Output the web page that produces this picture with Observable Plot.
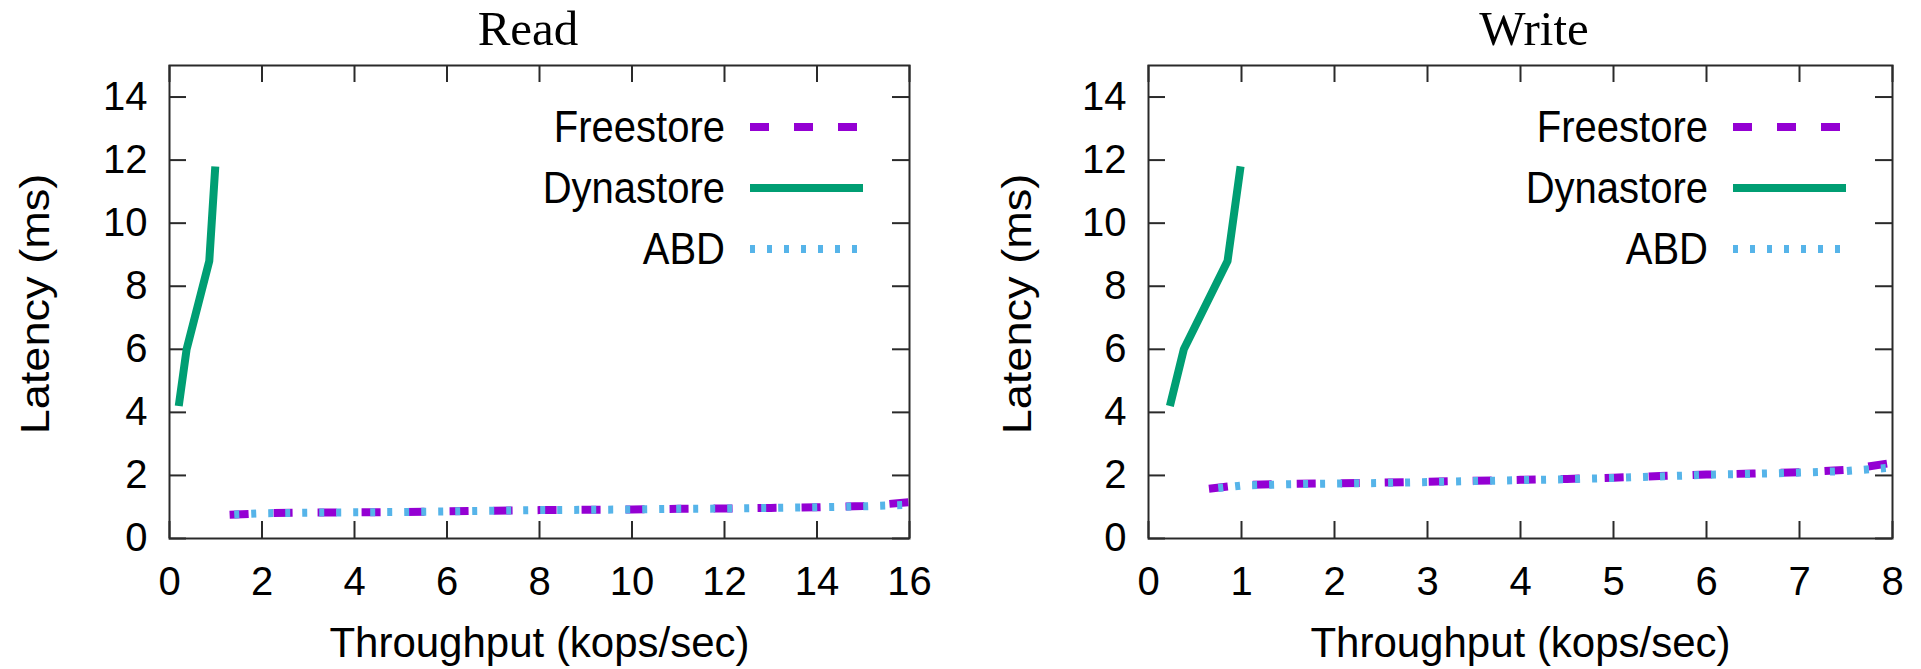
<!DOCTYPE html>
<html><head><meta charset="utf-8">
<script src="https://cdn.jsdelivr.net/npm/d3@7"></script>
<script src="https://cdn.jsdelivr.net/npm/@observablehq/plot@0.6"></script>
<style>
body{margin:0;background:#fff;width:1921px;height:669px;overflow:hidden;font-family:"Liberation Sans",Arial,sans-serif;position:relative}
.panel{position:absolute;top:0;height:669px}
.title{position:absolute;top:4px;font-family:"Liberation Serif","Times New Roman",serif;font-size:49px;line-height:49px;transform:translateX(-50%);white-space:nowrap;color:#000}
.plot{position:absolute;top:63px;left:0}
.lgtext{position:absolute;height:50px;line-height:50px;font-size:40px;white-space:nowrap;transform:translateX(-100%) scaleY(1.1);transform-origin:100% 50%;color:#000}
.lgsw{position:absolute;overflow:visible}
.ylab{position:absolute;font-size:41px;line-height:41px;white-space:nowrap;transform:translate(-50%,-50%) scale(1,1.1) rotate(-90deg);color:#000}
</style></head><body>
<script>
// ---- data ----
const seriesNames = ["Freestore", "Dynastore", "ABD"];
const seriesColors = ["#9400D3", "#009E73", "#56B4E9"];
const yTicks = [0, 2, 4, 6, 8, 10, 12, 14];
const xLabel = "Throughput (kops/sec)";
const yLabel = "Latency (ms)";

const readXTicks = [0, 2, 4, 6, 8, 10, 12, 14, 16];
const readFreestoreX = [1.3, 2, 3, 4, 5, 6, 7, 8, 9, 10, 11, 12, 13, 14, 15, 16];
const readFreestoreY = [0.75, 0.8, 0.82, 0.83, 0.84, 0.86, 0.88, 0.9, 0.91, 0.92, 0.94, 0.95, 0.97, 0.99, 1.03, 1.15];
const readDynastoreX = [0.2, 0.37, 0.86, 0.99];
const readDynastoreY = [4.2, 6.0, 8.8, 11.8];
const readABDX = [1.4, 2, 3, 4, 5, 6, 7, 8, 9, 10, 11, 12, 13, 14, 15, 16];
const readABDY = [0.76, 0.8, 0.82, 0.83, 0.84, 0.86, 0.88, 0.9, 0.91, 0.92, 0.94, 0.95, 0.97, 0.99, 1.02, 1.07];

const writeXTicks = [0, 1, 2, 3, 4, 5, 6, 7, 8];
const writeFreestoreX = [0.65, 1, 1.5, 2, 2.5, 3, 3.5, 4, 4.5, 5, 5.5, 6, 6.5, 7, 7.5, 8];
const writeFreestoreY = [1.58, 1.7, 1.73, 1.75, 1.77, 1.8, 1.83, 1.86, 1.89, 1.93, 1.98, 2.03, 2.06, 2.1, 2.18, 2.4];
const writeDynastoreX = [0.23, 0.38, 0.85, 0.99];
const writeDynastoreY = [4.2, 6.0, 8.8, 11.8];
const writeABDX = [0.75, 1, 1.5, 2, 2.5, 3, 3.5, 4, 4.5, 5, 5.5, 6, 6.5, 7, 7.5, 8];
const writeABDY = [1.6, 1.68, 1.72, 1.74, 1.76, 1.79, 1.82, 1.85, 1.88, 1.92, 1.97, 2.02, 2.05, 2.09, 2.14, 2.25];

const toRows = (xs, ys) => xs.map((x, i) => ({x, y: ys[i]}));

const dashes = ["19,25", null, "5,12"];

function makePanel(o) {
  const H = 606, mT = 2, mB = 131;
  const innerH = H - mT - mB;
  const innerW = o.width - o.mL - o.mR;
  const div = document.createElement("div");
  div.className = "panel";
  div.style.left = o.left + "px";
  div.style.width = o.width + "px";
  document.body.appendChild(div);

  const t = document.createElement("div");
  t.className = "title";
  t.textContent = o.title;
  t.style.left = o.titleCX + "px";
  div.appendChild(t);

  const frameColor = "#2a2a2a";
  const data = o.series.map(([xs, ys]) => toRows(xs, ys));
  const marks = [
    Plot.frame({stroke: frameColor, strokeWidth: 2}),
    Plot.tickX(o.xTicks, {x: d => d, insetTop: innerH - 17, stroke: frameColor, strokeWidth: 2}),
    Plot.tickX(o.xTicks, {x: d => d, insetBottom: innerH - 17, stroke: frameColor, strokeWidth: 2}),
    Plot.tickY(yTicks, {y: d => d, insetRight: innerW - 17, stroke: frameColor, strokeWidth: 2}),
    Plot.tickY(yTicks, {y: d => d, insetLeft: innerW - 17, stroke: frameColor, strokeWidth: 2}),
    Plot.axisX({ticks: o.xTicks, tickSize: 0, tickPadding: 28, label: null, fontSize: 40, anchor: "bottom", tickFormat: d => String(d)}),
    Plot.axisY({ticks: yTicks, tickSize: 0, tickPadding: 22, label: null, fontSize: 40, anchor: "left", tickFormat: d => String(d)}),
    Plot.text([xLabel], {frameAnchor: "bottom", text: d => d, dy: 89, lineAnchor: "top", fontSize: 42, fill: "#000"})
  ];
  data.forEach((rows, i) => {
    marks.push(Plot.line(rows, {x: "x", y: "y", stroke: seriesColors[i], strokeWidth: 8,
      strokeDasharray: dashes[i] || undefined, strokeLinecap: "butt", strokeLinejoin: "round", clip: true}));
  });
  const svg = Plot.plot({
    width: o.width, height: H,
    marginLeft: o.mL, marginRight: o.mR, marginTop: mT, marginBottom: mB,
    x: {domain: o.xDomain, label: null},
    y: {domain: [0, 15], label: null},
    style: {fontFamily: "'Liberation Sans', Arial, sans-serif", fontSize: "40px", color: "#000", background: "transparent", overflow: "visible"},
    marks
  });
  const holder = document.createElement("div");
  holder.className = "plot";
  holder.appendChild(svg);
  div.appendChild(holder);

  // y-axis label
  const yl = document.createElement("div");
  yl.className = "ylab";
  yl.textContent = yLabel;
  yl.style.left = o.ylabCX + "px";
  yl.style.top = "304px";
  div.appendChild(yl);

  // legend (HTML overlay)
  const frameRight = o.width - o.mR;
  seriesNames.forEach((name, i) => {
    const cy = 127 + 61 * i;
    const tx = document.createElement("div");
    tx.className = "lgtext";
    tx.textContent = name;
    tx.style.left = (frameRight - 184) + "px";
    tx.style.top = (cy - 25) + "px";
    div.appendChild(tx);
    const ns = "http://www.w3.org/2000/svg";
    const sw = document.createElementNS(ns, "svg");
    sw.setAttribute("class", "lgsw");
    sw.setAttribute("width", 115);
    sw.setAttribute("height", 20);
    sw.style.left = (frameRight - 159) + "px";
    sw.style.top = (cy - 10) + "px";
    const ln = document.createElementNS(ns, "line");
    ln.setAttribute("x1", 0); ln.setAttribute("x2", i === 1 ? 113 : 110);
    ln.setAttribute("y1", 10); ln.setAttribute("y2", 10);
    ln.setAttribute("stroke", seriesColors[i]);
    ln.setAttribute("stroke-width", 8);
    if (dashes[i]) ln.setAttribute("stroke-dasharray", dashes[i]);
    sw.appendChild(ln);
    div.appendChild(sw);
  });
}

makePanel({left: 0, width: 960, mL: 169, mR: 51, title: "Read", titleCX: 528, xDomain: [0, 16], xTicks: readXTicks, ylabCX: 35,
  series: [[readFreestoreX, readFreestoreY], [readDynastoreX, readDynastoreY], [readABDX, readABDY]]});
makePanel({left: 960, width: 961, mL: 188, mR: 29, title: "Write", titleCX: 574, xDomain: [0, 8], xTicks: writeXTicks, ylabCX: 57,
  series: [[writeFreestoreX, writeFreestoreY], [writeDynastoreX, writeDynastoreY], [writeABDX, writeABDY]]});
</script>
</body></html>
